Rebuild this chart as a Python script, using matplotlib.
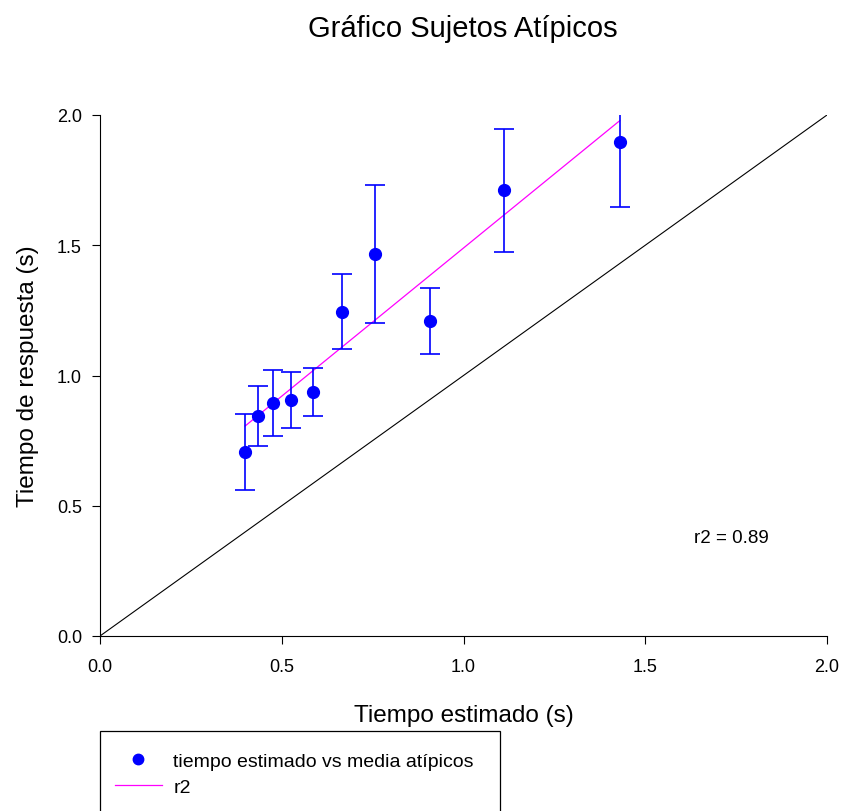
import numpy as np
import matplotlib.pyplot as plt
from matplotlib.lines import Line2D
from matplotlib.patches import Rectangle

# Datos: tiempo estimado vs media de respuesta (sujetos atípicos)
tiempo_estimado = [0.399, 0.435, 0.476, 0.525, 0.586, 0.666, 0.757, 0.908, 1.111, 1.430]
media_atipicos = [0.706, 0.845, 0.894, 0.906, 0.937, 1.244, 1.466, 1.209, 1.712, 1.896]
error_atipicos = [0.147, 0.115, 0.127, 0.106, 0.092, 0.144, 0.266, 0.127, 0.236, 0.249]
r2_texto = 'r2 = 0.89'

plt.rcParams['font.family'] = ['Liberation Sans', 'DejaVu Sans']

fig = plt.figure(figsize=(8.43, 8.12), dpi=100)
ax = fig.add_axes([100/843, 1 - 637/812, 727/843, 521/812])

x = np.array(tiempo_estimado)
y = np.array(media_atipicos)

# recta identidad
ax.plot([0, 2], [0, 2], color='black', lw=0.8)

# recta de regresion
pend, interc = np.polyfit(x, y, 1)
xr = np.array([x.min(), x.max()])
ax.plot(xr, pend * xr + interc, color='#ff00ff', lw=0.9)

ax.errorbar(x, y, yerr=error_atipicos, fmt='o', color='blue', ecolor='blue',
            markersize=8.5, elinewidth=1.2, capsize=7, capthick=1.2)

ax.text(1.736, 0.38, r2_texto, ha='center', va='center', fontsize=13.5)

ax.set_xlim(0, 2)
ax.set_ylim(0, 2)
ax.set_xticks([0, 0.5, 1.0, 1.5, 2.0])
ax.set_yticks([0, 0.5, 1.0, 1.5, 2.0])
ax.xaxis.set_major_formatter(plt.FormatStrFormatter('%.1f'))
ax.yaxis.set_major_formatter(plt.FormatStrFormatter('%.1f'))
ax.tick_params(direction='out', length=6, width=0.8, labelsize=13, pad=7)
ax.tick_params(axis='x', pad=10)
ax.spines['top'].set_visible(False)
ax.spines['right'].set_visible(False)

ax.set_xlabel('Tiempo estimado (s)', fontsize=17.5, labelpad=20.5)
ax.set_ylabel('Tiempo de respuesta (s)', fontsize=17.5, labelpad=13)
fig.suptitle('Gráfico Sujetos Atípicos', fontsize=21, x=463/843, y=1 - 15/812, va='top')

# leyenda (caja cortada por abajo como en el original)
h_puntos = Line2D([], [], ls='none', marker='o', color='blue', markersize=7.5)
h_r2 = Line2D([], [], color='#ff00ff', lw=0.9)
leg = fig.legend([h_puntos, h_r2], ['tiempo estimado vs media atípicos', 'r2'],
                 loc='upper left', bbox_to_anchor=(115/843, 1 - 753/812),
                 frameon=False, fontsize=14, handlelength=2.4, handletextpad=0.6,
                 labelspacing=0.45, borderpad=0, borderaxespad=0)
fig.patches.append(Rectangle((100/843, -0.02), 400/843, 0.02 + (812 - 732)/812,
                             transform=fig.transFigure, fill=False,
                             edgecolor='black', lw=0.9))

fig.savefig('out.png', dpi=100)
